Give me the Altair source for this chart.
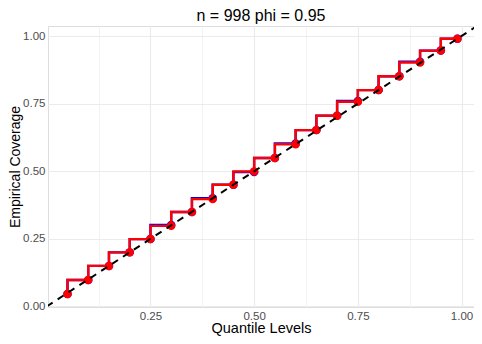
import altair as alt
import pandas as pd

# Quantile levels and empirical coverage
levels = [0.05, 0.10, 0.15, 0.20, 0.25, 0.30, 0.35, 0.40, 0.45, 0.50,
          0.55, 0.60, 0.65, 0.70, 0.75, 0.80, 0.85, 0.90, 0.95, 0.99]
coverage_red = [0.046, 0.098, 0.150, 0.200, 0.249, 0.298, 0.349, 0.397, 0.450, 0.499,
                0.549, 0.600, 0.652, 0.705, 0.757, 0.800, 0.851, 0.902, 0.946, 0.990]
coverage_blue = [0.046, 0.098, 0.150, 0.200, 0.249, 0.301, 0.349, 0.400, 0.450, 0.497,
                 0.549, 0.603, 0.652, 0.705, 0.760, 0.800, 0.851, 0.905, 0.946, 0.990]
diag = [0.0, 1.1]

x_ticks = [0.125, 0.25, 0.375, 0.5, 0.625, 0.75, 0.875, 1.0]
y_ticks = [0.0, 0.125, 0.25, 0.375, 0.5, 0.625, 0.75, 0.875, 1.0]

red = pd.DataFrame({"q": levels, "cov": coverage_red})
blue = pd.DataFrame({"q": levels, "cov": coverage_blue})
dline = pd.DataFrame({"q": diag, "cov": diag})

FONT = "Liberation Sans"
label_expr = "datum.value % 0.25 == 0 ? format(datum.value, '.2f') : ''"
grid_color = alt.condition("datum.value % 0.25 == 0", alt.value("#EBEBEB"), alt.value("#F3F3F3"))

xs = alt.Scale(domain=[0.003, 1.030], nice=False, zero=False)
ys = alt.Scale(domain=[-0.002, 1.037], nice=False, zero=False)

x_enc = alt.X("q:Q", scale=xs, title="Quantile Levels",
              axis=alt.Axis(values=x_ticks, labelExpr=label_expr, grid=True,
                            gridColor=grid_color, gridWidth=1.1, domain=False, ticks=False,
                            labelFontSize=11.5, labelColor="#4D4D4D", labelFont=FONT,
                            labelPadding=3, titleFontSize=14.5, titleFont=FONT,
                            titleFontWeight="normal", titleColor="#000000", titlePadding=0,
                            labelFlush=False))
y_enc = alt.Y("cov:Q", scale=ys, title="Empirical Coverage",
              axis=alt.Axis(values=y_ticks, labelExpr=label_expr, grid=True,
                            gridColor=grid_color, gridWidth=1.1, domain=False, ticks=False,
                            labelFontSize=11.5, labelColor="#4D4D4D", labelFont=FONT,
                            labelPadding=3, titleFontSize=14, titleFont=FONT,
                            titleFontWeight="normal", titleColor="#000000", titlePadding=0,
                            labelFlush=False))

blue_step = alt.Chart(blue).mark_line(color="#0000FF", strokeWidth=2.4, interpolate="step-before").encode(x=x_enc, y=y_enc)
blue_pts = alt.Chart(blue).mark_circle(color="#0000FF", opacity=1, size=72).encode(x="q:Q", y="cov:Q")
red_step = alt.Chart(red).mark_line(color="#FF0000", strokeWidth=2.4, interpolate="step-before").encode(x="q:Q", y="cov:Q")
red_pts = alt.Chart(red).mark_circle(color="#FF0000", opacity=1, size=72).encode(x="q:Q", y="cov:Q")
dash = alt.Chart(dline).mark_line(color="#000000", strokeWidth=2, strokeDash=[7, 6], clip=True).encode(x="q:Q", y="cov:Q")

chart = alt.layer(blue_step, blue_pts, red_step, red_pts, dash).properties(
    width=426, height=281,
    title=alt.TitleParams("n = 998 phi = 0.95", fontSize=16, font=FONT, fontWeight="normal",
                          color="#000000", anchor="middle", offset=2),
    autosize=alt.AutoSizeParams(type="none"),
    padding={"left": 40, "top": 18, "right": 0, "bottom": 29},
).configure_view(stroke=None).configure(background="white")

chart.save("out.html", embed_options={"renderer": "svg", "actions": False})
